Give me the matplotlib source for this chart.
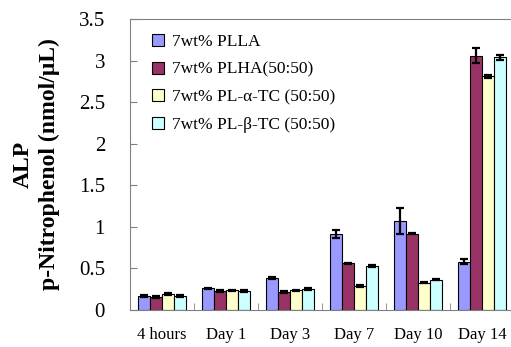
import numpy as np
import matplotlib.pyplot as plt

# data
groups = ['4 hours', 'Day 1', 'Day 3', 'Day 7', 'Day 10', 'Day 14']
labels = ['7wt% PLLA', '7wt% PLHA(50:50)', '7wt% PL-α-TC (50:50)', '7wt% PL-β-TC (50:50)']
colors = ['#9999FF', '#993366', '#FFFFCC', '#CCFFFF']

plla = [0.17, 0.26, 0.385, 0.91, 1.07, 0.58]
plha = [0.16, 0.225, 0.22, 0.56, 0.92, 3.06]
alpha_tc = [0.19, 0.235, 0.235, 0.29, 0.33, 2.81]
beta_tc = [0.17, 0.23, 0.25, 0.53, 0.365, 3.04]

plla_err = [0.01, 0.01, 0.015, 0.05, 0.16, 0.03]
plha_err = [0.01, 0.01, 0.01, 0.01, 0.01, 0.09]
alpha_err = [0.01, 0.01, 0.01, 0.01, 0.01, 0.015]
beta_err = [0.01, 0.01, 0.01, 0.01, 0.01, 0.03]

series = [plla, plha, alpha_tc, beta_tc]
errors = [plla_err, plha_err, alpha_err, beta_err]

plt.rcParams['font.family'] = ['Liberation Serif', 'DejaVu Serif']

fig = plt.figure(figsize=(5.11, 3.47), dpi=100)
ax = fig.add_axes([130 / 511, 37 / 347, 384 / 511, 291 / 347])

x = np.arange(len(groups))
w = 0.1875
for i, (vals, errs) in enumerate(zip(series, errors)):
    ax.bar(x + (i - 1.5) * w, vals, w, color=colors[i], edgecolor='black',
           linewidth=0.8, label=labels[i],
           yerr=errs, error_kw=dict(ecolor='black', elinewidth=1.6, capsize=3, capthick=1.6))

ax.set_xlim(-0.5, 5.5)
ax.set_ylim(0, 3.5)
ax.set_yticks([0, 0.5, 1, 1.5, 2, 2.5, 3, 3.5])
ax.set_yticklabels(['0', '0.5', '1', '1.5', '2', '2.5', '3', '3.5'])
ax.set_xticks(x)
ax.set_xticklabels(groups)
ax.set_xticks(np.arange(0.5, 5.5, 1), minor=True)

ax.tick_params(axis='y', direction='in', length=5, color='#808080', pad=18, labelsize=15)
ax.tick_params(axis='x', which='major', length=0, pad=12, labelsize=12)
ax.tick_params(axis='x', which='minor', direction='in', length=5, color='#808080')

for s in ['left', 'top', 'bottom']:
    ax.spines[s].set_color('#808080')
ax.spines['right'].set_visible(False)

ax.set_ylabel('ALP\np-Nitrophenol (nmol/μL)', fontsize=17, fontweight='bold', linespacing=1.3)
ax.yaxis.set_label_coords(-0.183, 0.5)

ax.legend(loc='upper left', bbox_to_anchor=(0.04, 0.972), frameon=False, fontsize=12.5,
          handlelength=0.7, handleheight=0.7, handletextpad=0.45, labelspacing=0.66,
          borderaxespad=0)

fig.savefig('out.png', dpi=100)
